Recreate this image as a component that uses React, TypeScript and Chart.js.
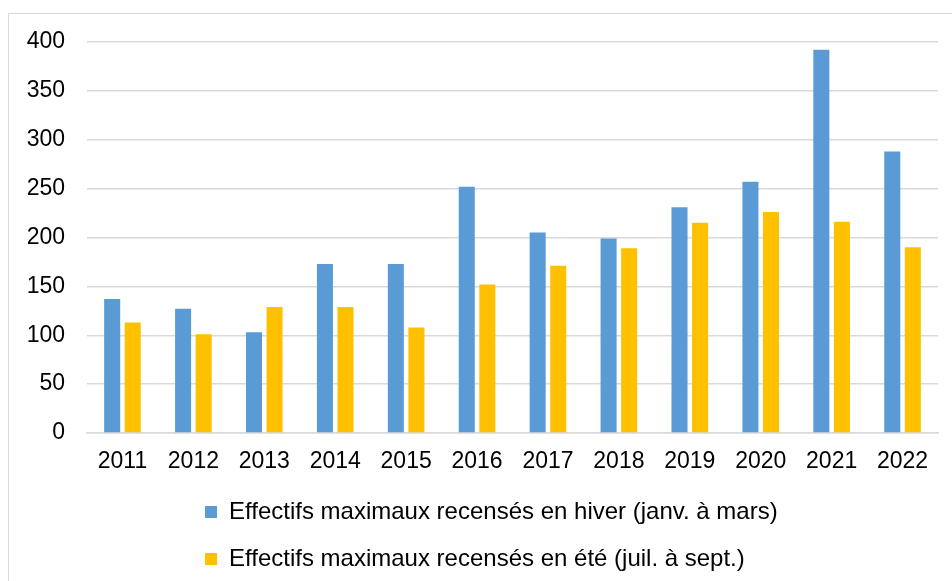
import React, { useEffect, useRef } from "react";
import { Chart, registerables } from "chart.js";

Chart.register(...registerables);

const years = ["2011", "2012", "2013", "2014", "2015", "2016", "2017", "2018", "2019", "2020", "2021", "2022"];
const winterMax = [137, 127, 103, 173, 173, 252, 205, 199, 231, 257, 392, 288];
const summerMax = [113, 101, 129, 129, 108, 152, 171, 189, 215, 226, 216, 190];
const winterLabel = "Effectifs maximaux recensés en hiver (janv. à mars)";
const summerLabel = "Effectifs maximaux recensés en été (juil. à sept.)";

const FONT = "'Liberation Sans', Arial, sans-serif";
const LEGEND_X = 205;

const legendAlign = {
  id: "legendAlign",
  beforeDraw(chart: any) {
    const lg = chart.legend;
    if (!lg || !lg.lineWidths) return;
    const pad = lg.options.labels.padding;
    const L = lg.left + pad + lg.right - 2 * LEGEND_X;
    lg.lineWidths = lg.lineWidths.map(() => L);
  },
};

export default function App() {
  const ref = useRef<HTMLCanvasElement | null>(null);

  useEffect(() => {
    if (!ref.current) return;
    const chart = new Chart(ref.current, {
      type: "bar",
      data: {
        labels: years,
        datasets: [
          {
            label: winterLabel,
            data: winterMax,
            backgroundColor: "#5B9BD5",
            barPercentage: 0.78,
            categoryPercentage: 0.58,
          },
          {
            label: summerLabel,
            data: summerMax,
            backgroundColor: "#FFC000",
            barPercentage: 0.78,
            categoryPercentage: 0.58,
          },
        ],
      },
      options: {
        animation: false,
        responsive: false,
        maintainAspectRatio: false,
        layout: { padding: { top: 42, right: 14, bottom: 0, left: 0 } },
        plugins: {
          tooltip: { enabled: false },
          legend: {
            position: "bottom",
            align: "center",
            labels: {
              font: { family: FONT, size: 24 },
              color: "#000",
              boxWidth: 12,
              boxHeight: 12,
              padding: 23,
            },
          },
        },
        scales: {
          x: {
            afterFit: (s: any) => {
              s.height = 44;
            },
            grid: { display: false, drawTicks: false },
            border: { display: true, color: "#d9d9d9", width: 1.5 },
            ticks: { font: { family: FONT, size: 23 }, color: "#000", padding: 15, maxRotation: 0 },
          },
          y: {
            min: 0,
            max: 400,
            afterFit: (s: any) => {
              s.width = 87;
            },
            grid: { color: "#d9d9d9", lineWidth: 1.5, drawTicks: false },
            border: { display: false },
            ticks: { stepSize: 50, font: { family: FONT, size: 23 }, color: "#000", padding: 22 },
          },
        },
      },
      plugins: [legendAlign],
    });
    return () => chart.destroy();
  }, []);

  return (
    <div style={{ position: "fixed", left: 0, top: 0, width: 952, height: 581, background: "#fff", overflow: "hidden" }}>
      <div
        style={{
          position: "absolute",
          left: 8,
          top: 13,
          width: 1000,
          height: 700,
          border: "1px solid #d9d9d9",
        }}
      />
      <canvas ref={ref} width={952} height={581} style={{ position: "absolute", left: 0, top: 0 }} />
    </div>
  );
}
